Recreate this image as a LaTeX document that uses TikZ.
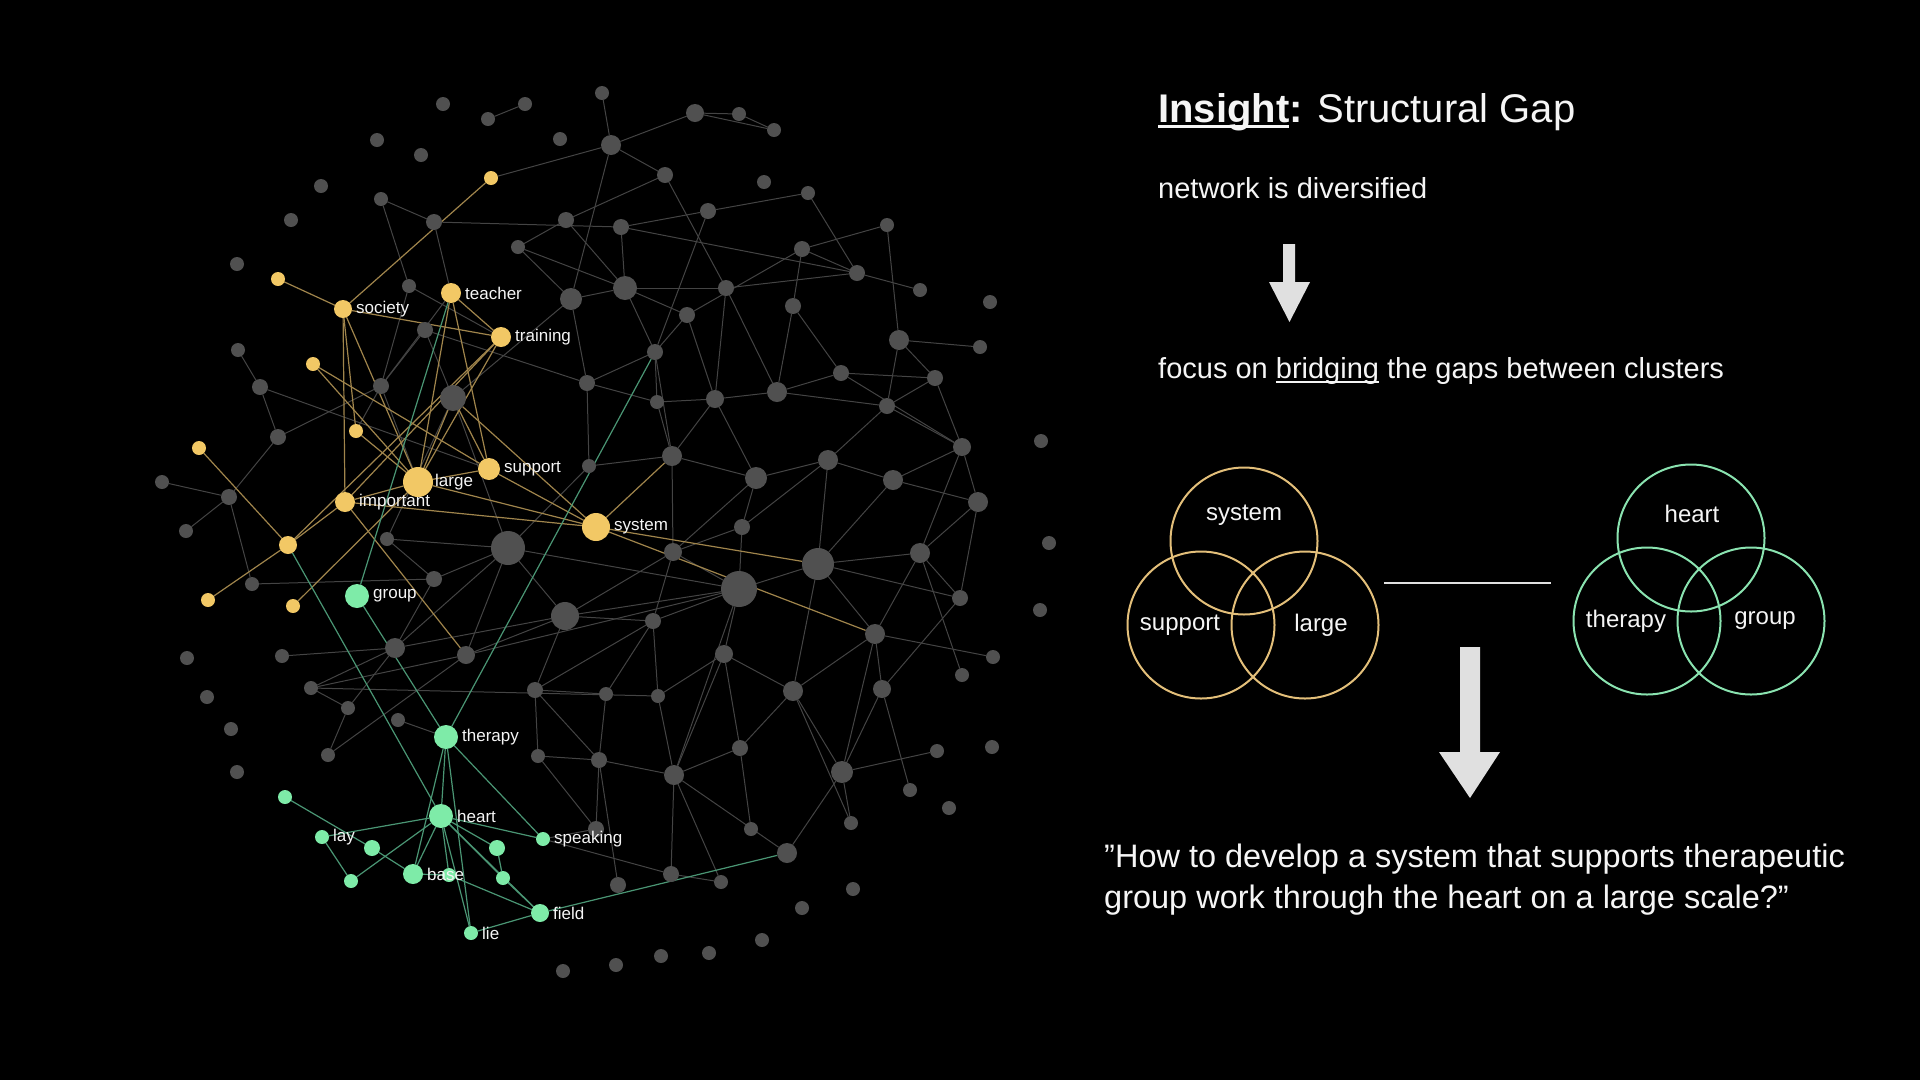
\documentclass[tikz,border=0pt]{standalone}
\usepackage{fontspec}
\setmainfont{Liberation Sans}
\definecolor{ngray}{RGB}{80,80,80}
\definecolor{egray}{RGB}{68,68,68}
\definecolor{nyel}{RGB}{242,200,101}
\definecolor{eyel}{RGB}{160,133,76}
\definecolor{ngrn}{RGB}{126,235,168}
\definecolor{egrn}{RGB}{74,150,116}
\definecolor{vyel}{RGB}{227,191,122}
\definecolor{vgrn}{RGB}{138,227,176}
\definecolor{txt}{RGB}{245,245,245}
\definecolor{arr}{RGB}{224,224,224}
\newcommand\myul[3]{\setbox0\hbox{#3}\rlap{\rule[-#1]{\wd0}{#2}}\box0\relax}
\pgfdeclarelayer{bglayer}
\pgfdeclarelayer{edgelayer}
\pgfsetlayers{bglayer,edgelayer,main}
\begin{document}
\begin{tikzpicture}[x=1pt,y=-1pt,
  dot/.style={circle,inner sep=0pt,outer sep=0pt,draw=none},
  gdot/.style={dot,fill=ngray},
  ydot/.style={dot,fill=nyel},
  cdot/.style={dot,fill=ngrn},
  lab/.style={text=txt,font=\fontsize{17}{20}\selectfont,inner sep=0pt},
  label distance=4pt,
  gedge/.style={draw=egray,line width=1pt},
  yedge/.style={draw=eyel,line width=1.2pt},
  cedge/.style={draw=egrn,line width=1.2pt},
  body/.style={anchor=base west,text=txt,inner sep=0pt},
  vlab/.style={text=txt,font=\fontsize{24}{28}\selectfont,inner sep=0pt},
  venny/.style={circle,draw=vyel,line width=2pt,minimum size=147pt,inner sep=0pt},
  venng/.style={circle,draw=vgrn,line width=2pt,minimum size=147pt,inner sep=0pt},
  blockarrow/.style={fill=arr}
]
\begin{pgfonlayer}{bglayer}
\fill[black] (0,0) rectangle (1920,1080);
\end{pgfonlayer}
\useasboundingbox (0,0) rectangle (1920,1080);

% gray nodes
\foreach \n/\x/\y/\d in {g1/602/93/14,g2/443/104/14,g3/525/104/14,g4/488/119/14,g5/695/113/18,g6/739/114/14,g7/774/130/14,g8/377/140/14,g9/560/139/14,g10/611/145/20,g11/421/155/14,g12/665/175/16,g13/764/182/14,g14/321/186/14,g15/381/199/14,g16/708/211/16,g17/808/193/14,g18/434/222/16,g19/566/220/16,g20/621/227/16,g21/887/225/14,g22/518/247/14,g23/802/249/16,g24/291/220/14,g25/237/264/14,g26/857/273/16,g27/920/290/14,g28/990/302/14,g29/571/299/22,g30/625/288/24,g31/726/288/16,g32/793/306/16,g33/409/286/14,g34/425/330/16,g35/687/315/16,g36/655/352/16,g37/899/340/20,g38/980/347/14,g39/238/350/14,g40/260/387/16,g41/381/386/16,g42/453/398/26,g43/587/383/16,g44/657/402/14,g45/715/399/18,g46/777/392/20,g47/841/373/16,g48/935/378/16,g49/887/406/16,g50/278/437/16,g51/672/456/20,g52/589/466/14,g53/756/478/22,g54/828/460/20,g55/893/480/20,g56/962/447/18,g57/1041/441/14,g58/978/502/20,g59/162/482/14,g60/229/497/16,g61/186/531/14,g62/387/539/14,g63/508/548/34,g64/742/527/16,g65/673/552/18,g66/920/553/20,g67/1049/543/14,g68/818/564/32,g69/739/589/36,g70/960/598/16,g71/1040/610/14,g72/252/584/14,g73/434/579/16,g74/565/616/28,g75/653/621/16,g76/875/634/20,g77/724/654/18,g78/993/657/14,g79/962/675/14,g80/187/658/14,g81/282/656/14,g82/395/648/20,g83/466/655/18,g84/311/688/14,g85/207/697/14,g86/348/708/14,g87/398/720/14,g88/535/690/16,g89/606/694/14,g90/658/696/14,g91/793/691/20,g92/882/689/18,g93/231/729/14,g94/328/755/14,g95/237/772/14,g96/538/756/14,g97/599/760/16,g98/674/775/20,g99/740/748/16,g100/842/772/22,g101/937/751/14,g102/992/747/14,g103/910/790/14,g104/949/808/14,g105/596/829/16,g106/751/829/14,g107/851/823/14,g108/787/853/20,g109/618/885/16,g110/671/874/16,g111/721/882/14,g112/853/889/14,g113/802/908/14,g114/762/940/14,g115/709/953/14,g116/661/956/14,g117/616/965/14,g118/563/971/14}
  \node[gdot,minimum size=\d pt] (\n) at (\x,\y) {};

% yellow nodes
\foreach \n/\x/\y/\d in {ya/491/178/14,yb/278/279/14,yc/313/364/14,yd/356/431/14,ye/199/448/14,yf/288/545/18,yg/208/600/14,yh/293/606/14}
  \node[ydot,minimum size=\d pt] (\n) at (\x,\y) {};
\node[ydot,minimum size=18pt,label={[lab]right:society}] (ysoc) at (343,309) {};
\node[ydot,minimum size=20pt,label={[lab]right:teacher}] (ytea) at (451,293) {};
\node[ydot,minimum size=20pt,label={[lab]right:training}] (ytra) at (501,337) {};
\node[ydot,minimum size=22pt,label={[lab]right:support}] (ysup) at (489,469) {};
\node[ydot,minimum size=30pt,label={[lab,label distance=2pt]right:large}] (ylar) at (418,482) {};
\node[ydot,minimum size=20pt,label={[lab]right:important}] (yimp) at (345,502) {};
\node[ydot,minimum size=28pt,label={[lab]right:system}] (ysys) at (596,527) {};

% green nodes
\foreach \n/\x/\y/\d in {ca/285/797/14,cb/372/848/16,cc/351/881/14,cd/449/875/14,ce/497/848/16,cf/503/878/14}
  \node[cdot,minimum size=\d pt] (\n) at (\x,\y) {};
\node[cdot,minimum size=24pt,label={[lab]right:group}] (cgroup) at (357,596) {};
\node[cdot,minimum size=24pt,label={[lab]right:therapy}] (cther) at (446,737) {};
\node[cdot,minimum size=24pt,label={[lab]right:heart}] (cheart) at (441,816) {};
\node[cdot,minimum size=14pt,label={[lab]right:speaking}] (cspeak) at (543,839) {};
\node[cdot,minimum size=14pt,label={[lab]right:lay}] (clay) at (322,837) {};
\node[cdot,minimum size=20pt,label={[lab]right:base}] (cbase) at (413,874) {};
\node[cdot,minimum size=18pt,label={[lab]right:field}] (cfield) at (540,913) {};
\node[cdot,minimum size=14pt,label={[lab]right:lie}] (clie) at (471,933) {};

\begin{pgfonlayer}{edgelayer}
\foreach \a/\b in {g4/g3,g1/g10,g10/g5,g5/g6,g6/g7,g5/g7,g10/g12,g10/g29,g12/g19,g12/g31,g15/g18,g18/g20,g19/g30,g20/g16,g16/g17,g20/g26,g17/g26,g23/g21,g23/g26,g26/g27,g21/g37,g23/g32,g23/g35,g16/g36,g22/g30,g18/ytea,g33/ytra,g33/g41,g34/g43,g34/g42,g42/g29,g42/g62,g39/g40,g41/ylar,g41/ytea,g50/g60,g50/g41,g59/g60,g60/g61,g60/g72,g72/g73,g81/g82,g84/g90,g84/g83,g86/g82,g87/cther,g94/g83,g83/g63,g83/g74,g82/g63,g74/g75,g74/g69,g74/g88,g88/g96,g89/g97,g97/g105,g97/g109,g98/g110,g98/g111,g98/g99,g98/g97,g99/g106,g100/g108,g100/g107,g100/g101,g96/g105,cspeak/g110,g110/g111,g68/g66,g68/g70,g68/g76,g68/g91,g66/g70,g66/g79,g70/g92,g76/g78,g76/g92,g76/g91,g76/g100,g91/g100,g91/g107,g92/g103,g43/g36,g43/g44,g43/g52,g44/g45,g44/g51,g45/g46,g45/g53,g46/g47,g46/g49,g47/g48,g49/g48,g48/g56,g49/g56,g49/g54,g53/g54,g54/g55,g55/g56,g56/g58,g55/g58,g53/g64,g64/g69,g69/g68,g65/g69,g51/g65,g65/g74,g66/g58,g68/g55,g69/g77,g77/g91,g69/g75,g63/g69,g63/g74,g62/g63,g52/g63,g52/g51,g35/g36,g35/g45,g31/g45,g32/g46,g32/g47,g37/g48,g37/g49,g38/g37,g29/g30,g29/g43,g30/g35,g30/g36,g73/g82,g75/g89,g75/g90,g90/g98,g77/g98,g69/g98,g88/g89,g88/g75,g62/g73,g86/g94,g96/g97,g64/g54,g51/g53,g65/g75,g36/g51,g31/g46,g34/g41,yd/g41,ya/g10,g84/g82,g82/g74,g83/g69,g108/g98,g105/cspeak,g40/ysup,g19/g22,g22/g29,g30/g31,g20/g30,g36/g44,g45/g51,g53/g65,g58/g70,g56/g66,g64/g65,g77/g90,g88/g97,g73/g63,g40/g50,g84/g86,g99/g77,g91/g99,g92/g100,g66/g76,g54/g68,g47/g56,g26/g31,g15/g33,g42/g63}
  \draw[gedge] (\a) -- (\b);
\foreach \a/\b in {ya/ysoc,yb/ysoc,ysoc/yimp,ysoc/yd,ysoc/ytra,ysoc/ylar,ytea/ytra,ytea/ylar,ytra/ylar,ytra/yf,ytra/yimp,yc/ysup,yc/ylar,ylar/ysup,ylar/ysys,yimp/ysys,ysup/ysys,yimp/ylar,g42/ysup,g42/ysys,g42/ylar,ye/yf,yf/yimp,yg/yf,yh/ylar,yimp/g83,ysys/g51,ysys/g68,ysys/g76,yd/ylar,ytea/ysup}
  \draw[yedge] (\a) -- (\b);
\foreach \a/\b in {ytea/cgroup,g36/cther,yf/cheart,cgroup/cther,cther/cheart,cther/cspeak,cther/cbase,cther/clie,cheart/clay,cheart/cc,cheart/cbase,cheart/cd,cheart/ce,cheart/cf,cheart/cfield,cheart/cspeak,cheart/clie,ca/cb,clay/cc,cb/cbase,cbase/cd,cd/cfield,cf/cfield,ce/cf,clie/cfield,cfield/g108}
  \draw[cedge] (\a) -- (\b);
\end{pgfonlayer}

% right side texts
\node[body,font=\fontsize{40}{48}\selectfont] (title) at (1158,122) {\myul{5.5pt}{3pt}{\bfseries Insight}\textbf{:} Structural Gap};
\node[body,font=\fontsize{29}{34}\selectfont] (t1) at (1158,198) {network is diversified};
\node[body,font=\fontsize{29}{34}\selectfont] (t2) at (1158,378) {focus on \myul{4.5pt}{2pt}{bridging} the gaps between clusters};
\node[body,font=\fontsize{32.5}{40}\selectfont] (q1) at (1104,867) {”How to develop a system that supports therapeutic};
\node[body,font=\fontsize{32.5}{40}\selectfont] (q2) at (1104,908) {group work through the heart on a large scale?”};

% arrows
\fill[blockarrow] (1283,244) -- (1295,244) -- (1295,282) -- (1310,282) -- (1289.5,322) -- (1269,282) -- (1283,282) -- cycle;
\fill[blockarrow] (1460,647) -- (1480,647) -- (1480,752) -- (1500,752) -- (1470,798) -- (1439,752) -- (1460,752) -- cycle;

% venn diagrams
\node[venny] (vsys) at (1244,541) {};
\node[venny] (vsup) at (1201,625) {};
\node[venny] (vlar) at (1305,625) {};
\node[vlab] at (1244,515) {system};
\node[vlab] at (1180,625) {support};
\node[vlab] at (1321,625) {large};
\node[venng] (vheart) at (1691,538) {};
\node[venng] (vther) at (1647,621) {};
\node[venng] (vgroup) at (1751,621) {};
\node[vlab] at (1692,514) {heart};
\node[vlab] at (1626,621) {therapy};
\node[vlab] at (1765,621) {group};
\coordinate (gapL) at (1384,583);
\coordinate (gapR) at (1551,583);
\draw[arr,line width=2.5pt] (gapL) -- (gapR);
\end{tikzpicture}
\end{document}
